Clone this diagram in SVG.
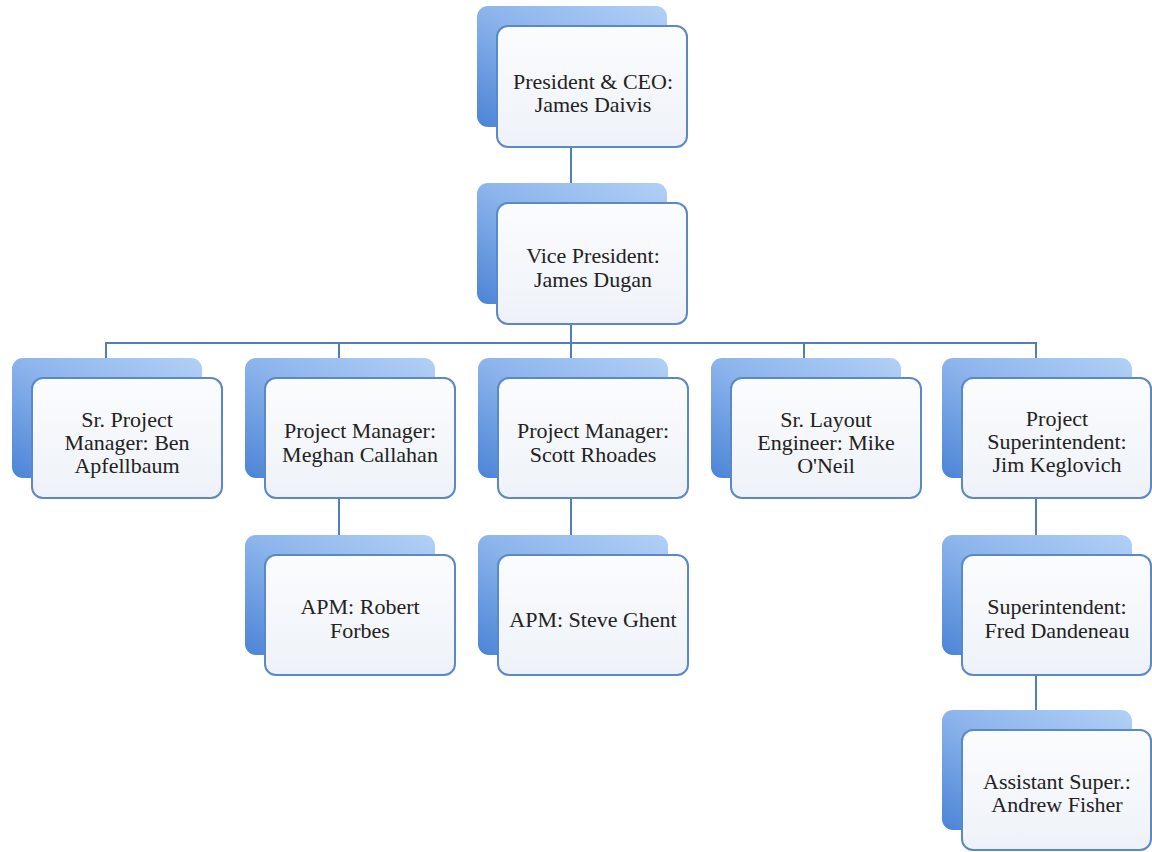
<svg xmlns="http://www.w3.org/2000/svg" width="1152" height="852" viewBox="0 0 1152 852">
<defs>
<linearGradient id="gb" x1="1" y1="0" x2="0" y2="1">
<stop offset="0" stop-color="#b2d0f6"/>
<stop offset="0.5" stop-color="#8cb4ec"/>
<stop offset="1" stop-color="#4b84d6"/>
</linearGradient>
<linearGradient id="gf" x1="0" y1="0" x2="0" y2="1">
<stop offset="0" stop-color="#fbfcfe"/>
<stop offset="1" stop-color="#eef2f8"/>
</linearGradient>
<style>
.back{fill:url(#gb);}
.front{fill:url(#gf);stroke:#5b88c6;stroke-width:2;}
.t{font-family:"Liberation Serif","Times New Roman",serif;font-size:22px;fill:#222;text-anchor:middle;}
.c{fill:none;stroke:#4f7fbd;stroke-width:2;}
</style>
</defs>
<rect width="1152" height="852" fill="#fff"/>
<g id="connectors">
<line class="c" x1="571" y1="147" x2="571" y2="184"/>
<line class="c" x1="571" y1="324" x2="571" y2="343"/>
<polyline class="c" points="106,359 106,343 1036,343 1036,359"/>
<line class="c" x1="339" y1="343" x2="339" y2="359"/>
<line class="c" x1="571" y1="343" x2="571" y2="359"/>
<line class="c" x1="804" y1="343" x2="804" y2="359"/>
<line class="c" x1="339" y1="498" x2="339" y2="536"/>
<line class="c" x1="571" y1="498" x2="571" y2="536"/>
<line class="c" x1="1036" y1="498" x2="1036" y2="536"/>
<line class="c" x1="1036" y1="675" x2="1036" y2="711"/>
</g>
<g id="ceo">
<rect class="back" x="477" y="6" width="190" height="121" rx="11"/>
<rect class="front" x="497" y="26" width="190" height="121" rx="11"/>
<text class="t" x="593" y="89">President &amp; CEO:</text>
<text class="t" x="593" y="112">James Daivis</text>
</g>
<g id="vp">
<rect class="back" x="477" y="183" width="190" height="121" rx="11"/>
<rect class="front" x="497" y="203" width="190" height="121" rx="11"/>
<text class="t" x="593" y="263">Vice President:</text>
<text class="t" x="593" y="287">James Dugan</text>
</g>
<g id="sr-pm">
<rect class="back" x="12" y="358" width="190" height="120" rx="11"/>
<rect class="front" x="32" y="378" width="190" height="120" rx="11"/>
<text class="t" x="127" y="427">Sr. Project</text>
<text class="t" x="127" y="450">Manager: Ben</text>
<text class="t" x="127" y="473">Apfellbaum</text>
</g>
<g id="pm-meghan">
<rect class="back" x="245" y="358" width="190" height="120" rx="11"/>
<rect class="front" x="265" y="378" width="190" height="120" rx="11"/>
<text class="t" x="360" y="438">Project Manager:</text>
<text class="t" x="360" y="462">Meghan Callahan</text>
</g>
<g id="pm-scott">
<rect class="back" x="478" y="358" width="190" height="120" rx="11"/>
<rect class="front" x="498" y="378" width="190" height="120" rx="11"/>
<text class="t" x="593" y="438">Project Manager:</text>
<text class="t" x="593" y="462">Scott Rhoades</text>
</g>
<g id="layout-mike">
<rect class="back" x="711" y="358" width="190" height="120" rx="11"/>
<rect class="front" x="731" y="378" width="190" height="120" rx="11"/>
<text class="t" x="826" y="427">Sr. Layout</text>
<text class="t" x="826" y="450">Engineer: Mike</text>
<text class="t" x="826" y="473">O'Neil</text>
</g>
<g id="super-jim">
<rect class="back" x="942" y="358" width="190" height="120" rx="11"/>
<rect class="front" x="962" y="378" width="189" height="120" rx="11"/>
<text class="t" x="1057" y="426">Project</text>
<text class="t" x="1057" y="449">Superintendent:</text>
<text class="t" x="1057" y="472">Jim Keglovich</text>
</g>
<g id="apm-robert">
<rect class="back" x="245" y="535" width="190" height="120" rx="11"/>
<rect class="front" x="265" y="555" width="190" height="120" rx="11"/>
<text class="t" x="360" y="614">APM: Robert</text>
<text class="t" x="360" y="638">Forbes</text>
</g>
<g id="apm-steve">
<rect class="back" x="478" y="535" width="190" height="120" rx="11"/>
<rect class="front" x="498" y="555" width="190" height="120" rx="11"/>
<text class="t" x="593" y="627">APM: Steve Ghent</text>
</g>
<g id="super-fred">
<rect class="back" x="942" y="535" width="190" height="120" rx="11"/>
<rect class="front" x="962" y="555" width="189" height="120" rx="11"/>
<text class="t" x="1057" y="614">Superintendent:</text>
<text class="t" x="1057" y="638">Fred Dandeneau</text>
</g>
<g id="asst-andrew">
<rect class="back" x="942" y="710" width="190" height="120" rx="11"/>
<rect class="front" x="962" y="730" width="189" height="120" rx="11"/>
<text class="t" x="1057" y="789">Assistant Super.:</text>
<text class="t" x="1057" y="812">Andrew Fisher</text>
</g>
</svg>
